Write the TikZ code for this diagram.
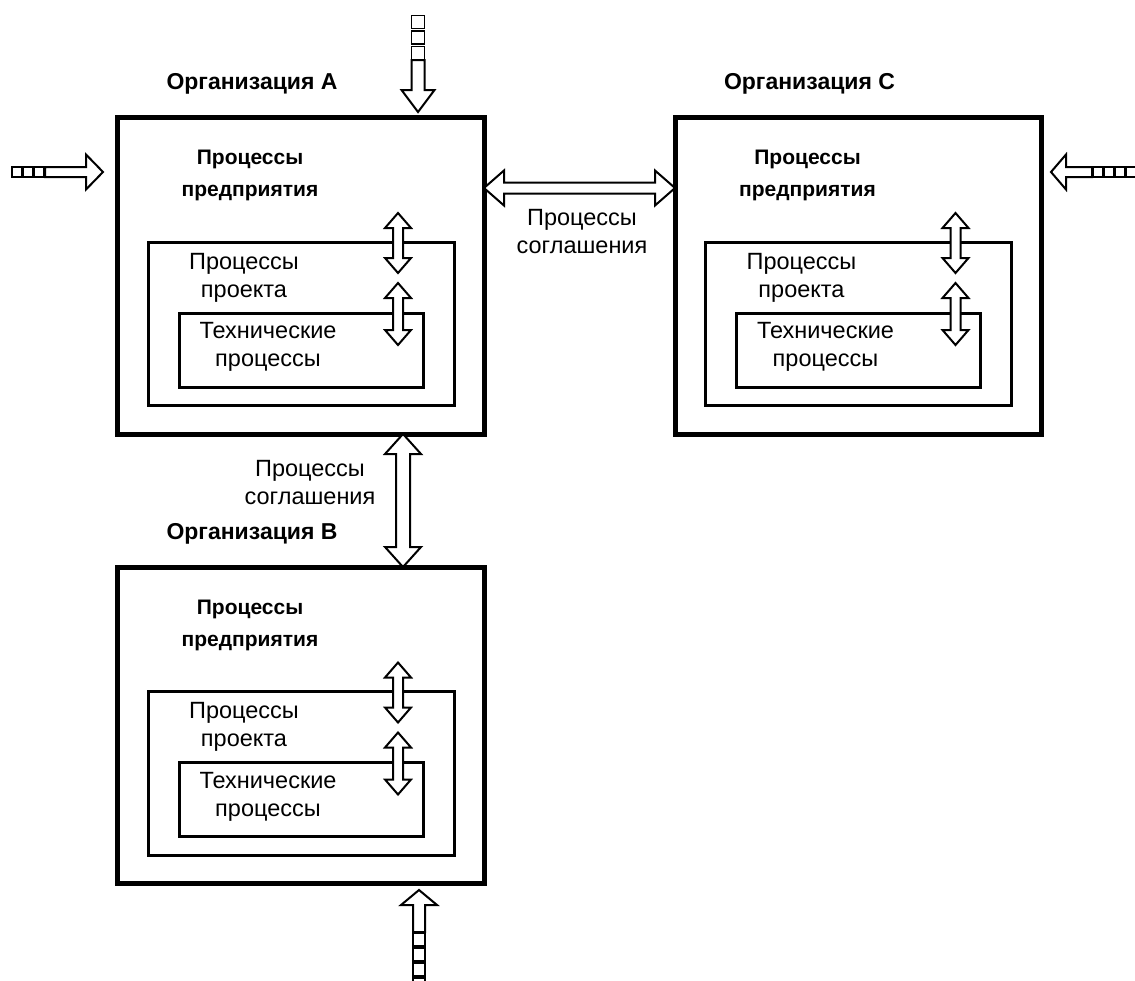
\documentclass[tikz,border=0pt]{standalone}
\usepackage{fontspec}
\setmainfont{Liberation Sans}
\usetikzlibrary{calc}
\tikzset{
  orgbox/.style={draw, line width=5pt, minimum width=366.5pt, minimum height=316.5pt, inner sep=0pt, outer sep=0pt},
  projbox/.style={draw, line width=3pt, minimum width=306pt, minimum height=163.5pt, inner sep=0pt, outer sep=0pt},
  techbox/.style={draw, line width=3pt, minimum width=244pt, minimum height=74pt, inner sep=0pt, outer sep=0pt},
  hollow/.style={draw, line width=2pt, fill=white, line join=miter},
  sqbox/.style={draw, line width=1.8pt, fill=white},
  orglabel/.style={font=\bfseries\fontsize{23}{27}\selectfont, inner sep=0pt},
  boldlabel/.style={font=\bfseries\fontsize{21}{32}\selectfont, align=center, inner sep=0pt},
  plainlabel/.style={font=\fontsize{23.5}{28}\selectfont, align=center, inner sep=0pt},
}
% double hollow arrow: #1 start, #2 end, #3 shaft half width, #4 head half width, #5 head length
\newcommand{\dblarr}[5]{%
  \path ($(#1)!#5!(#2)$) coordinate (hA) ($(#2)!#5!(#1)$) coordinate (hB);
  \draw[hollow] (#1) -- ($(hA)!#4!90:(#2)$) -- ($(hA)!#3!90:(#2)$)
    -- ($(hB)!#3!-90:(#1)$) -- ($(hB)!#4!-90:(#1)$) -- (#2)
    -- ($(hB)!#4!90:(#1)$) -- ($(hB)!#3!90:(#1)$)
    -- ($(hA)!#3!-90:(#2)$) -- ($(hA)!#4!-90:(#2)$) -- cycle;
}
% single hollow arrow: #1 tail, #2 tip
\newcommand{\sglarr}[5]{%
  \path ($(#2)!#5!(#1)$) coordinate (hH);
  \draw[hollow] (#2) -- ($(hH)!#4!90:(#1)$) -- ($(hH)!#3!90:(#1)$)
    -- ($(#1)!#3!-90:(#2)$) -- ($(#1)!#3!90:(#2)$)
    -- ($(hH)!#3!-90:(#1)$) -- ($(hH)!#4!-90:(#1)$) -- cycle;
}
\begin{document}
\begin{tikzpicture}[x=1pt,y=-1pt]
\useasboundingbox (0,0) rectangle (1135,980);
\fill[white] (0,0) rectangle (1135,980);

\foreach \n/\cx/\cy in {A/300.75/275.75, B/300.75/725.25, C/858.25/275.75}{
  \begin{scope}[shift={(\cx,\cy)}]
    \node[orgbox] (\n) at (0,0) {};
    \node[projbox] (\n-p) at (0.25,48) {};
    \node[techbox] (\n-t) at (0.25,74.25) {};
    \node[orglabel] (\n-lab) at (-48.75,-191.5) {Организация \n};
    \node[boldlabel] (\n-ent) at (-50.75,-100) {Процессы\\предприятия};
    \node[plainlabel] (\n-prt) at (-56.75,2) {Процессы\\проекта};
    \node[plainlabel] (\n-tct) at (-32.75,71.5) {Технические\\процессы};
    \coordinate (\n-a1) at (97.25,-62.75);
    \coordinate (\n-a2) at (97.25,-2.75);
    \coordinate (\n-b1) at (97.25,7.25);
    \coordinate (\n-b2) at (97.25,69.25);
    \dblarr{\n-a1}{\n-a2}{5pt}{13pt}{15pt}
    \dblarr{\n-b1}{\n-b2}{5pt}{13pt}{15pt}
  \end{scope}
}

% agreement arrows
\coordinate (ac1) at (A.east |- 0,188);
\coordinate (ac2) at (C.west |- 0,188);
\dblarr{ac1}{ac2}{5.5pt}{17.5pt}{20pt}
\node[plainlabel] (agAC) at (582,232) {Процессы\\соглашения};

\coordinate (ab1) at (A.south -| 403,0);
\coordinate (ab2) at (B.north -| 403,0);
\dblarr{ab1}{ab2}{7pt}{18pt}{20pt}
\node[plainlabel] (agAB) at (310,483) {Процессы\\соглашения};

% incoming arrows with square tails
\coordinate (topT) at (418,60);
\coordinate (topH) at (418,112);
\sglarr{topT}{topH}{6.5pt}{16.5pt}{22pt}
\foreach \y in {15.5,31,46.5}{\draw[sqbox] (411.5,\y) rectangle ++(13,13);}

\coordinate (botT) at (419,932);
\coordinate (botH) at (419,890);
\sglarr{botT}{botH}{6pt}{18pt}{15pt}
\foreach \y in {933,948,963,978}{\draw[sqbox] (413,\y) rectangle ++(12,13);}

\coordinate (lftT) at (45,172);
\coordinate (lftH) at (103,172);
\sglarr{lftT}{lftH}{5pt}{17.5pt}{17pt}
\foreach \x in {12,23,34}{\draw[sqbox] (\x,167) rectangle ++(10,10);}

\coordinate (rgtT) at (1092,172);
\coordinate (rgtH) at (1051,172);
\sglarr{rgtT}{rgtH}{5pt}{17.5pt}{15pt}
\foreach \x in {1093,1104,1115,1126}{\draw[sqbox] (\x,167) rectangle ++(10,10);}
\end{tikzpicture}
\end{document}
